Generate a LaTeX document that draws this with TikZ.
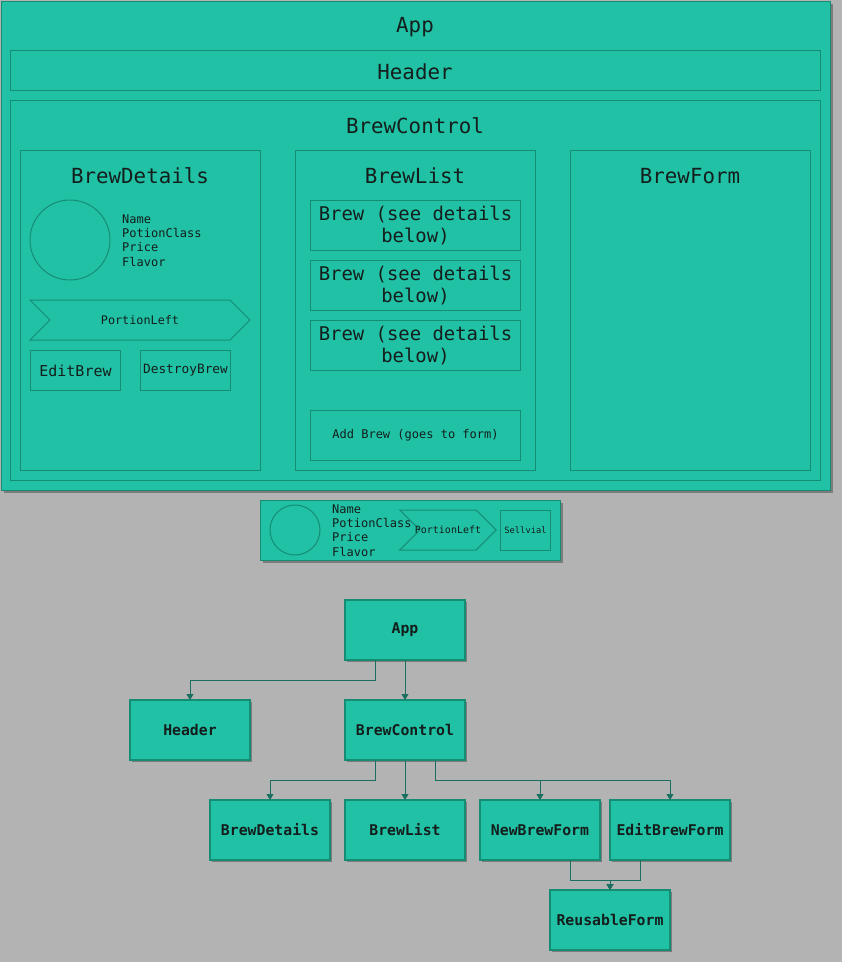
\documentclass[tikz,border=0pt]{standalone}
\usepackage{fontspec}
\setmainfont{DejaVu Sans Mono}
\usetikzlibrary{arrows.meta,positioning,shapes.symbols,shadows}

\definecolor{canvas}{HTML}{B3B3B3}
\definecolor{mint}{HTML}{21C1A5}
\definecolor{rim}{HTML}{178C75}
\definecolor{wire}{HTML}{1B6F61}
\definecolor{ink}{HTML}{141E1C}

\begin{document}
\begin{tikzpicture}[
  x=1pt, y=-1pt,
  font=\fontsize{12}{14.3}\selectfont, text=ink,
  lift/.style={drop shadow={shadow xshift=2pt, shadow yshift=-2pt, opacity=0.3, fill=black}},
  frame/.style={draw=rim, line width=1.2pt, fill=mint, anchor=north west, inner sep=0pt},
  part/.style={draw=rim, line width=1pt, anchor=north west, inner sep=0pt, align=center},
  head/.style={font=\fontsize{20.8}{24}\selectfont},
  blob/.style={circle, draw=rim, line width=1pt, inner sep=0pt},
  tag/.style={signal, signal to=east, signal from=west, draw=rim, line width=1pt, inner sep=0pt},
  fields/.style={anchor=west, align=left, inner sep=0pt},
  leaf/.style={draw=rim, fill=mint, line width=1.2pt, outer sep=0pt, minimum width=120pt, minimum height=60pt, lift, font=\fontsize{14.8}{17}\selectfont\bfseries},
  link/.style={draw=wire, line width=1pt, -{Triangle[length=6pt, width=7pt]}}
]
\fill[canvas] (0,0) rectangle (842,962);
\useasboundingbox (0,0) rectangle (842,962);

% Page mockup (top)
\node[frame, lift, minimum width=829pt, minimum height=489pt] (appbox) at (1,1) {};
\node[head] (apptitle) at (415,27) {App};
\node[frame, minimum width=810pt, minimum height=40pt] (headerbox) at (10,50) {};
\node[head] (headertitle) at (415,72) {Header};
\node[frame, minimum width=810pt, minimum height=380pt] (ctrlbox) at (10,100) {};
\node[head] (ctrltitle) at (415,126) {BrewControl};

% BrewDetails column
\node[frame, minimum width=240pt, minimum height=320pt] (detailsbox) at (20,150) {};
\node[head] (detailstitle) at (140,176) {BrewDetails};
\node[blob, minimum size=80pt] (photo) at (70,240) {};
\node[fields] (info) at (122,240.5) {Name\\PotionClass\\Price\\Flavor};
\node[tag, minimum width=220pt, minimum height=40pt, font=\fontsize{11.8}{14}\selectfont] (portion) at (140,320) {PortionLeft};
\node[part, minimum width=90pt, minimum height=40pt, font=\fontsize{15}{17}\selectfont] (editbtn) at (30,350) {EditBrew};
\node[part, minimum width=90pt, minimum height=40pt, font=\fontsize{12.8}{15}\selectfont] (destroybtn) at (140,350) {DestroyBrew};

% BrewList column
\node[frame, minimum width=240pt, minimum height=320pt] (listbox) at (295,150) {};
\node[head] (listtitle) at (415,176) {BrewList};
\foreach \y/\n in {200/1, 260/2, 320/3}
  \node[part, minimum width=210pt, minimum height=50pt, font=\fontsize{18.9}{22.5}\selectfont] (brew\n) at (310,\y) {Brew (see details\\below)};
\node[part, minimum width=210pt, minimum height=50pt] (addbtn) at (310,410) {Add Brew (goes to form)};

% BrewForm column
\node[frame, minimum width=240pt, minimum height=320pt] (formbox) at (570,150) {};
\node[head] (formtitle) at (690,176) {BrewForm};

% Brew card (detail)
\node[frame, lift, minimum width=300pt, minimum height=60pt] (card) at (260,500) {};
\node[blob, minimum size=50pt] (cardphoto) at (295,530) {};
\node[fields] (cardinfo) at (332,530.5) {Name\\PotionClass\\Price\\Flavor};
\node[tag, inner xsep=-5pt, minimum width=96pt, minimum height=40pt, font=\fontsize{10}{12}\selectfont] (cardportion) at (448,530) {PortionLeft};
\node[part, minimum width=50pt, minimum height=40pt, font=\fontsize{8.75}{10}\selectfont] (sellbtn) at (500,510) {Sellvial};

% Component tree (bottom)
\node[leaf] (app) at (405,630) {App};
\node[leaf, below left=40pt and 95pt of app] (header) {Header};
\node[leaf, below=40pt of app] (ctrl) {BrewControl};
\node[leaf, below left=40pt and 15pt of ctrl] (details) {BrewDetails};
\node[leaf, below=40pt of ctrl] (list) {BrewList};
\node[leaf, below right=40pt and 15pt of ctrl] (newform) {NewBrewForm};
\node[leaf, right=10pt of newform] (editform) {EditBrewForm};
\node[leaf, below=30pt of editform.south west, anchor=north] (reusable) {ReusableForm};

\draw[link] ([xshift=-30pt]app.south) -- ++(0,20) -| (header.north);
\draw[link] (app) -- (ctrl);
\draw[link] ([xshift=-30pt]ctrl.south) -- ++(0,20) -| (details.north);
\draw[link] (ctrl) -- (list);
\draw[link] ([xshift=30pt]ctrl.south) -- ++(0,20) -| (newform.north);
\draw[link] ([xshift=30pt]ctrl.south) -- ++(0,20) -| (editform.north);
\draw[link] ([xshift=30pt]newform.south) -- ++(0,20) -| (reusable.north);
\draw[link] ([xshift=-30pt]editform.south) -- ++(0,20) -| (reusable.north);
\end{tikzpicture}
\end{document}
